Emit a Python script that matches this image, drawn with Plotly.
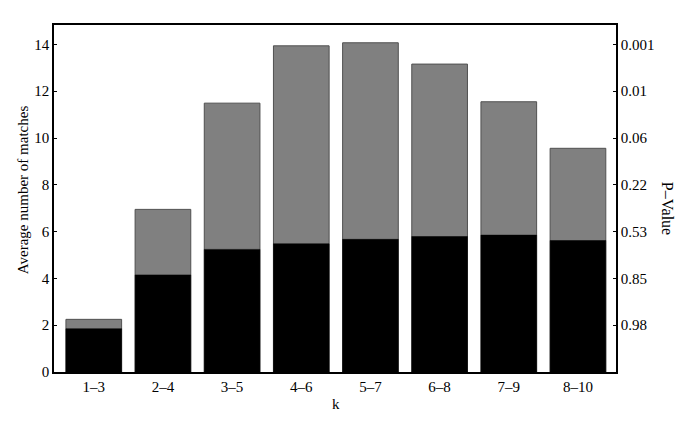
import plotly.graph_objects as go

categories = ["1–3", "2–4", "3–5", "4–6", "5–7", "6–8", "7–9", "8–10"]
total_matches = [2.25, 6.95, 11.49, 13.94, 14.07, 13.16, 11.55, 9.56]
random_matches = [1.85, 4.15, 5.24, 5.48, 5.67, 5.79, 5.85, 5.62]
pvalue_ticks = [2, 4, 6, 8, 10, 12, 14]
pvalue_labels = ["0.98", "0.85", "0.53", "0.22", "0.06", "0.01", "0.001"]

font = dict(family="Liberation Serif, Times New Roman, serif", size=15, color="black")

fig = go.Figure()
fig.add_trace(go.Bar(x=categories, y=total_matches, width=0.805,
                     marker=dict(color="#808080", line=dict(color="#505050", width=1)),
                     showlegend=False))
fig.add_trace(go.Bar(x=categories, y=random_matches, width=0.805,
                     marker=dict(color="#000000", line=dict(color="#000000", width=0.5)),
                     showlegend=False))
# invisible trace for the right axis
fig.add_trace(go.Scatter(x=categories, y=total_matches, yaxis="y2", mode="markers",
                         marker=dict(opacity=0), showlegend=False, hoverinfo="skip"))

ymax = 14.83
fig.update_layout(
    width=685, height=432,
    margin=dict(l=54, r=69, t=25, b=60, autoexpand=False),
    plot_bgcolor="white", paper_bgcolor="white",
    barmode="overlay",
    font=font,
    xaxis=dict(range=[-0.575, 7.55], showline=True, linecolor="black", linewidth=1.5,
               mirror=True, ticks="", showgrid=False, zeroline=False, automargin=False,
               tickfont=dict(size=15)),
    yaxis=dict(range=[0, ymax], showline=True, linecolor="black", linewidth=1.5,
               ticks="inside", ticklen=3, tickcolor="black", showgrid=False, zeroline=False,
               automargin=False,
               tickvals=[0, 2, 4, 6, 8, 10, 12, 14], tickfont=dict(size=15)),
    yaxis2=dict(range=[0, ymax], overlaying="y", side="right", showline=True,
                linecolor="black", linewidth=1.5, ticks="inside", ticklen=3,
                tickcolor="black", showgrid=False, zeroline=False, automargin=False,
                tickvals=pvalue_ticks, ticktext=pvalue_labels, tickfont=dict(size=15)),
    annotations=[
        dict(text="Average number of matches", x=0, xref="paper", xshift=-31,
             y=0.524, yref="paper", textangle=-90, showarrow=False,
             font=dict(size=15, color="black"), xanchor="center", yanchor="middle"),
        dict(text="k", x=0.502, xref="paper", y=0, yref="paper", yshift=-32,
             showarrow=False, font=dict(size=15, color="black"),
             xanchor="center", yanchor="middle"),
        dict(text="P–Value", x=1.0, xref="paper", xshift=51, y=0.473, yref="paper",
             textangle=90, showarrow=False, font=dict(size=16, color="black"),
             xanchor="center", yanchor="middle"),
    ],
)

fig.write_html("out.html", post_script="document.body.style.margin='0';",
               config={"displayModeBar": False})
